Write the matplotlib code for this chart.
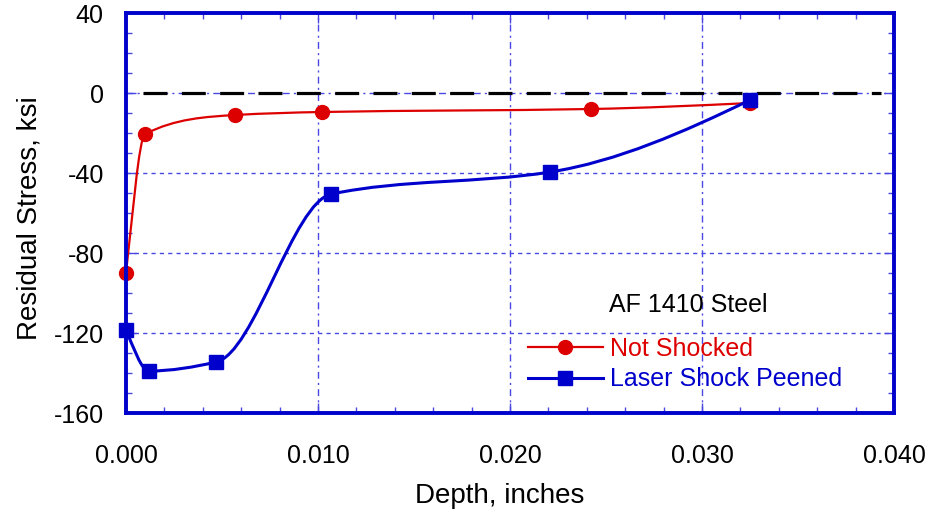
import numpy as np
import matplotlib.pyplot as plt
from matplotlib.path import Path
from matplotlib.patches import PathPatch
from matplotlib.lines import Line2D
from matplotlib.ticker import MultipleLocator, FormatStrFormatter

plt.rcParams['font.family'] = ['Liberation Sans', 'DejaVu Sans']
plt.rcParams['axes.unicode_minus'] = False

# residual stress profiles, depth in inches, stress in ksi
depth_ns = [0.0000, 0.0010, 0.0057, 0.0102, 0.0242, 0.0325]
stress_ns = [-90, -20.5, -11, -9.5, -8, -5]

depth_lsp = [0.0000, 0.0012, 0.0047, 0.0107, 0.0221, 0.0325]
stress_lsp = [-118.5, -139, -134.5, -50.5, -39.5, -3.5]

zero_line_x = [0.0009, 0.0393]

RED = '#DD0000'
BLUE = '#0000CC'
GRID = '#4848E4'


def end_slope(h0, h1, d0, d1):
    m = ((2 * h0 + h1) * d0 - h0 * d1) / (h0 + h1)
    if np.sign(m) != np.sign(d0):
        return 0.0
    if np.sign(d0) != np.sign(d1) and abs(m) > 3 * abs(d0):
        return 3 * d0
    return m


def smooth_path(x, y):
    # shape-preserving cubic through the points, drawn as bezier segments
    x = np.asarray(x, float)
    y = np.asarray(y, float)
    n = len(x)
    h = np.diff(x)
    d = np.diff(y) / h
    m = np.zeros(n)
    for k in range(1, n - 1):
        if d[k - 1] * d[k] <= 0:
            m[k] = 0.0
        else:
            w1 = 2 * h[k] + h[k - 1]
            w2 = h[k] + 2 * h[k - 1]
            m[k] = (w1 + w2) / (w1 / d[k - 1] + w2 / d[k])
    m[0] = end_slope(h[0], h[1], d[0], d[1])
    m[-1] = end_slope(h[-1], h[-2], d[-1], d[-2])

    verts = [(x[0], y[0])]
    codes = [Path.MOVETO]
    for k in range(n - 1):
        verts += [(x[k] + h[k] / 3, y[k] + m[k] * h[k] / 3),
                  (x[k + 1] - h[k] / 3, y[k + 1] - m[k + 1] * h[k] / 3),
                  (x[k + 1], y[k + 1])]
        codes += [Path.CURVE4] * 3
    return Path(verts, codes)


fig = plt.figure(figsize=(9.27, 5.16), dpi=100)
ax = fig.add_axes([0.1359, 0.1996, 0.8285, 0.7752])

ax.set_xlim(0, 0.040)
ax.set_ylim(-160, 40)

# grid
for gx in [0.010, 0.020, 0.030]:
    ax.axvline(gx, color=GRID, lw=1.0, ls=(0, (5, 3, 1.5, 3)), zorder=1)
for gy in [-40, -80, -120]:
    ax.axhline(gy, color=GRID, lw=1.0, ls=(0, (3, 3)), zorder=1)
ax.axhline(0, color=GRID, lw=1.0, ls=(0, (5, 3, 1.5, 3)), zorder=1)

# zero reference line
ax.plot(zero_line_x, [0, 0], color='black', lw=2.3, ls=(0, (7.5, 4.5)),
        solid_capstyle='butt', dash_capstyle='butt', zorder=2)

ax.add_patch(PathPatch(smooth_path(depth_ns, stress_ns), fill=False,
                       edgecolor=RED, lw=1.6, zorder=3))
ax.add_patch(PathPatch(smooth_path(depth_lsp, stress_lsp), fill=False,
                       edgecolor=BLUE, lw=2.2, zorder=4))
ax.plot(depth_ns, stress_ns, ls='none', marker='o', ms=10, color=RED,
        zorder=5, clip_on=False)
ax.plot(depth_lsp, stress_lsp, ls='none', marker='s', ms=10.5, color=BLUE,
        zorder=6, clip_on=False)

# axes styling
for sp in ax.spines.values():
    sp.set_color(BLUE)
    sp.set_linewidth(2.8)
    sp.set_zorder(7)

ax.xaxis.set_major_locator(MultipleLocator(0.010))
ax.xaxis.set_minor_locator(MultipleLocator(0.002))
ax.yaxis.set_major_locator(MultipleLocator(40))
ax.yaxis.set_minor_locator(MultipleLocator(10))
ax.xaxis.set_major_formatter(FormatStrFormatter('%.3f'))
ax.tick_params(which='both', direction='in', top=True, right=True,
               color=GRID, width=1.0, labelsize=18, labelcolor='black')
ax.tick_params(which='major', length=7)
ax.tick_params(which='minor', length=4.5)
ax.tick_params(axis='x', which='major', pad=22)
ax.tick_params(axis='y', which='major', pad=16)

ax.set_xlabel('Depth, inches', fontsize=20)
ax.xaxis.set_label_coords(0.487, -0.175)
ax.set_ylabel('Residual Stress, ksi', fontsize=20)
ax.yaxis.set_label_coords(-0.109, 0.4875)

ax.text(0.732, 0.27, 'AF 1410 Steel', transform=ax.transAxes, fontsize=18,
        ha='center', va='center', color='black')
handles = [
    Line2D([], [], color=RED, lw=1.6, marker='o', ms=10),
    Line2D([], [], color=BLUE, lw=2.2, marker='s', ms=10.5),
]
leg = ax.legend(handles, ['Not Shocked', 'Laser Shock Peened'],
                loc='upper left', bbox_to_anchor=(0.523, 0.19),
                frameon=False, fontsize=18, handlelength=3.0,
                handletextpad=0.3, labelspacing=0.25, borderpad=0,
                borderaxespad=0)
for txt, c in zip(leg.get_texts(), [RED, BLUE]):
    txt.set_color(c)

fig.savefig('out.png', dpi=100)
